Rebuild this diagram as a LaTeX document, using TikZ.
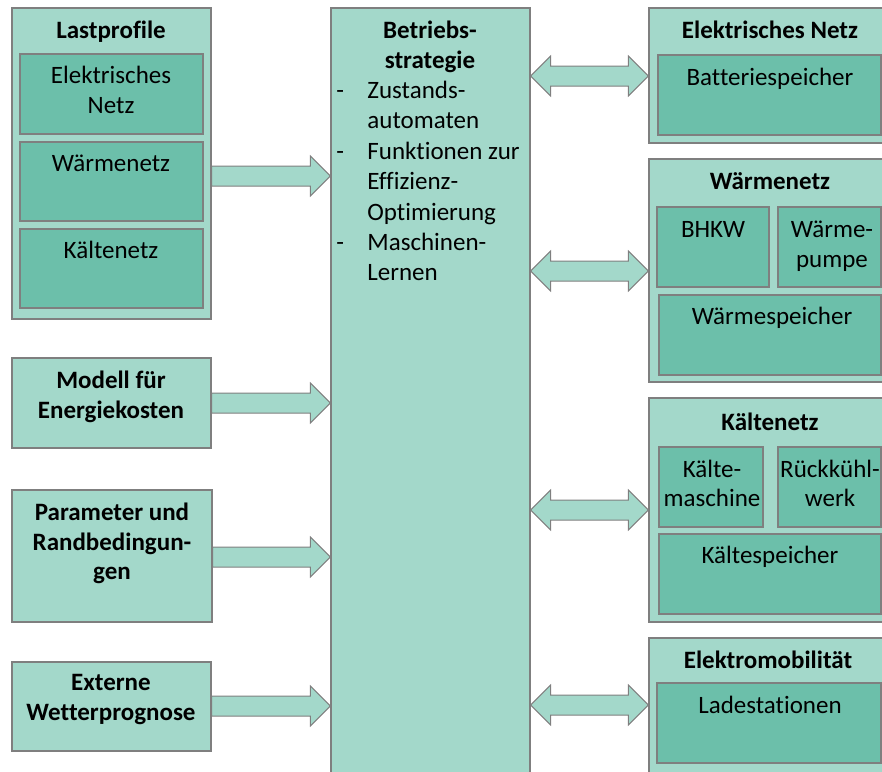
\documentclass[tikz,border=0pt]{standalone}
\usepackage{fontspec}
\setmainfont[Ligatures={NoCommon}]{Carlito}
\usetikzlibrary{calc,fit}
\definecolor{lightg}{HTML}{A3D8CA}
\definecolor{darkg}{HTML}{6CBFAA}
\definecolor{edgegray}{HTML}{7F7F7F}
\tikzset{
 outerbox/.style={draw=edgegray, fill=lightg, line width=0.6pt, inner sep=0pt},
 innerbox/.style={draw=edgegray, fill=darkg, line width=0.6pt, inner sep=0pt},
 blockarrow/.style={draw=edgegray, fill=lightg, line width=0.5pt, line join=miter},
 txt/.style={font=\fontsize{12.5}{15}\selectfont, anchor=base, inner sep=0pt},
 btxt/.style={txt, font=\fontsize{12.5}{15}\selectfont\bfseries},
 ltxt/.style={txt, anchor=base west},
}
\newcommand\blockR[2]{\draw[blockarrow] ($(#1)+(0,-10)$) -- ($(#2)+(-20,-10)$) -- ($(#2)+(-20,-20)$) -- (#2) -- ($(#2)+(-20,20)$) -- ($(#2)+(-20,10)$) -- ($(#1)+(0,10)$) -- cycle;}
\newcommand\blockLR[2]{\draw[blockarrow] (#1) -- ($(#1)+(20,-20)$) -- ($(#1)+(20,-10)$) -- ($(#2)+(-20,-10)$) -- ($(#2)+(-20,-20)$) -- (#2) -- ($(#2)+(-20,20)$) -- ($(#2)+(-20,10)$) -- ($(#1)+(20,10)$) -- ($(#1)+(20,20)$) -- cycle;}
\begin{document}
\begin{tikzpicture}[x=0.5pt,y=-0.5pt]
\useasboundingbox (0,0) rectangle (882,771);
\clip (0,0) rectangle (882,771);
% left column
\node[outerbox, fit={(12,8) (211,319)}] (lp) {};
\node[innerbox, fit={(20,54) (203,134)}] (lp1) {};
\node[innerbox, fit={(20,142) (203,221)}] (lp2) {};
\node[innerbox, fit={(20,229) (203,308)}] (lp3) {};
\node[outerbox, fit={(12,358) (211,448)}] (mod) {};
\node[outerbox, fit={(12,490) (212,622)}] (par) {};
\node[outerbox, fit={(12,662) (211,751)}] (ext) {};
% centre
\node[outerbox, fit={(331,8) (530,790)}] (strat) {};
% right column
\node[outerbox, fit={(649,8) (890,143)}] (en) {};
\node[innerbox, fit={(658,55) (881,135)}] (bat) {};
\node[outerbox, fit={(649,159) (890,382)}] (wn) {};
\node[innerbox, fit={(657,207) (769,287)}] (bhkw) {};
\node[innerbox, fit={(778,207) (881,287)}] (wp) {};
\node[innerbox, fit={(659,295) (881,375)}] (ws) {};
\node[outerbox, fit={(649,398) (890,622)}] (kn) {};
\node[innerbox, fit={(659,447) (763,527)}] (km) {};
\node[innerbox, fit={(778,447) (881,527)}] (rk) {};
\node[innerbox, fit={(659,534) (881,614)}] (ks) {};
\node[outerbox, fit={(649,638) (890,790)}] (em) {};
\node[innerbox, fit={(657,683) (881,763)}] (ls) {};
% arrows
\coordinate (a1s) at (lp.east |- 0,176);  \coordinate (a1e) at (strat.west |- 0,176);
\coordinate (a2s) at (mod.east |- 0,403); \coordinate (a2e) at (strat.west |- 0,403);
\coordinate (a3s) at (par.east |- 0,557); \coordinate (a3e) at (strat.west |- 0,557);
\coordinate (a4s) at (ext.east |- 0,706); \coordinate (a4e) at (strat.west |- 0,706);
\blockR{a1s}{a1e}
\blockR{a2s}{a2e}
\blockR{a3s}{a3e}
\blockR{a4s}{a4e}
\coordinate (d1s) at (strat.east |- 0,76);  \coordinate (d1e) at (en.west |- 0,76);
\coordinate (d2s) at (strat.east |- 0,271); \coordinate (d2e) at (wn.west |- 0,271);
\coordinate (d3s) at (strat.east |- 0,510); \coordinate (d3e) at (kn.west |- 0,510);
\coordinate (d4s) at (strat.east |- 0,705); \coordinate (d4e) at (em.west |- 0,705);
\blockLR{d1s}{d1e}
\blockLR{d2s}{d2e}
\blockLR{d3s}{d3e}
\blockLR{d4s}{d4e}
% left texts
\node[btxt] (t-lp) at (111,38) {Lastprofile};
\node[txt] (t-lp1a) at (111,83) {Elektrisches};
\node[txt] (t-lp1b) at (111,113) {Netz};
\node[txt] (t-lp2) at (111,171) {Wärmenetz};
\node[txt] (t-lp3) at (111,258) {Kältenetz};
\node[btxt] (t-moda) at (111,388) {Modell für};
\node[btxt] (t-modb) at (111,418) {Energiekosten};
\node[btxt] (t-para) at (112,520) {Parameter und};
\node[btxt] (t-parb) at (112,550) {Randbedingun-};
\node[btxt] (t-parc) at (112,579) {gen};
\node[btxt] (t-exta) at (111,690) {Externe};
\node[btxt] (t-extb) at (111,720) {Wetterprognose};
% centre texts
\node[btxt] (t-sa) at (430,38) {Betriebs-};
\node[btxt] (t-sb) at (430,68) {strategie};
\node[ltxt] (t-d1) at (336,98) {-};
\node[ltxt] (t-s1) at (367,98) {Zustands-};
\node[ltxt] (t-s2) at (367,128) {automaten};
\node[ltxt] (t-d2) at (336,159) {-};
\node[ltxt] (t-s3) at (367,159) {Funktionen zur};
\node[ltxt] (t-s4) at (367,189) {Effizienz-};
\node[ltxt] (t-s5) at (367,220) {Optimierung};
\node[ltxt] (t-d3) at (336,250) {-};
\node[ltxt] (t-s6) at (367,250) {Maschinen-};
\node[ltxt] (t-s7) at (367,280) {Lernen};
% right texts
\node[btxt] (t-en) at (770,38) {Elektrisches Netz};
\node[txt] (t-bat) at (770,85) {Batteriespeicher};
\node[btxt] (t-wn) at (770,189) {Wärmenetz};
\node[txt] (t-bhkw) at (713,237) {BHKW};
\node[txt] (t-wpa) at (832,237) {Wärme-};
\node[txt] (t-wpb) at (832,267) {pumpe};
\node[txt] (t-ws) at (772,324) {Wärmespeicher};
\node[btxt] (t-kn) at (770,430) {Kältenetz};
\node[txt] (t-kma) at (712,477) {Kälte-};
\node[txt] (t-kmb) at (712,506) {maschine};
\node[txt] (t-rka) at (830,477) {Rückkühl-};
\node[txt] (t-rkb) at (830,506) {werk};
\node[txt] (t-ks) at (770,563) {Kältespeicher};
\node[btxt] (t-em) at (768,668) {Elektromobilität};
\node[txt] (t-ls) at (770,713) {Ladestationen};
\end{tikzpicture}
\end{document}
